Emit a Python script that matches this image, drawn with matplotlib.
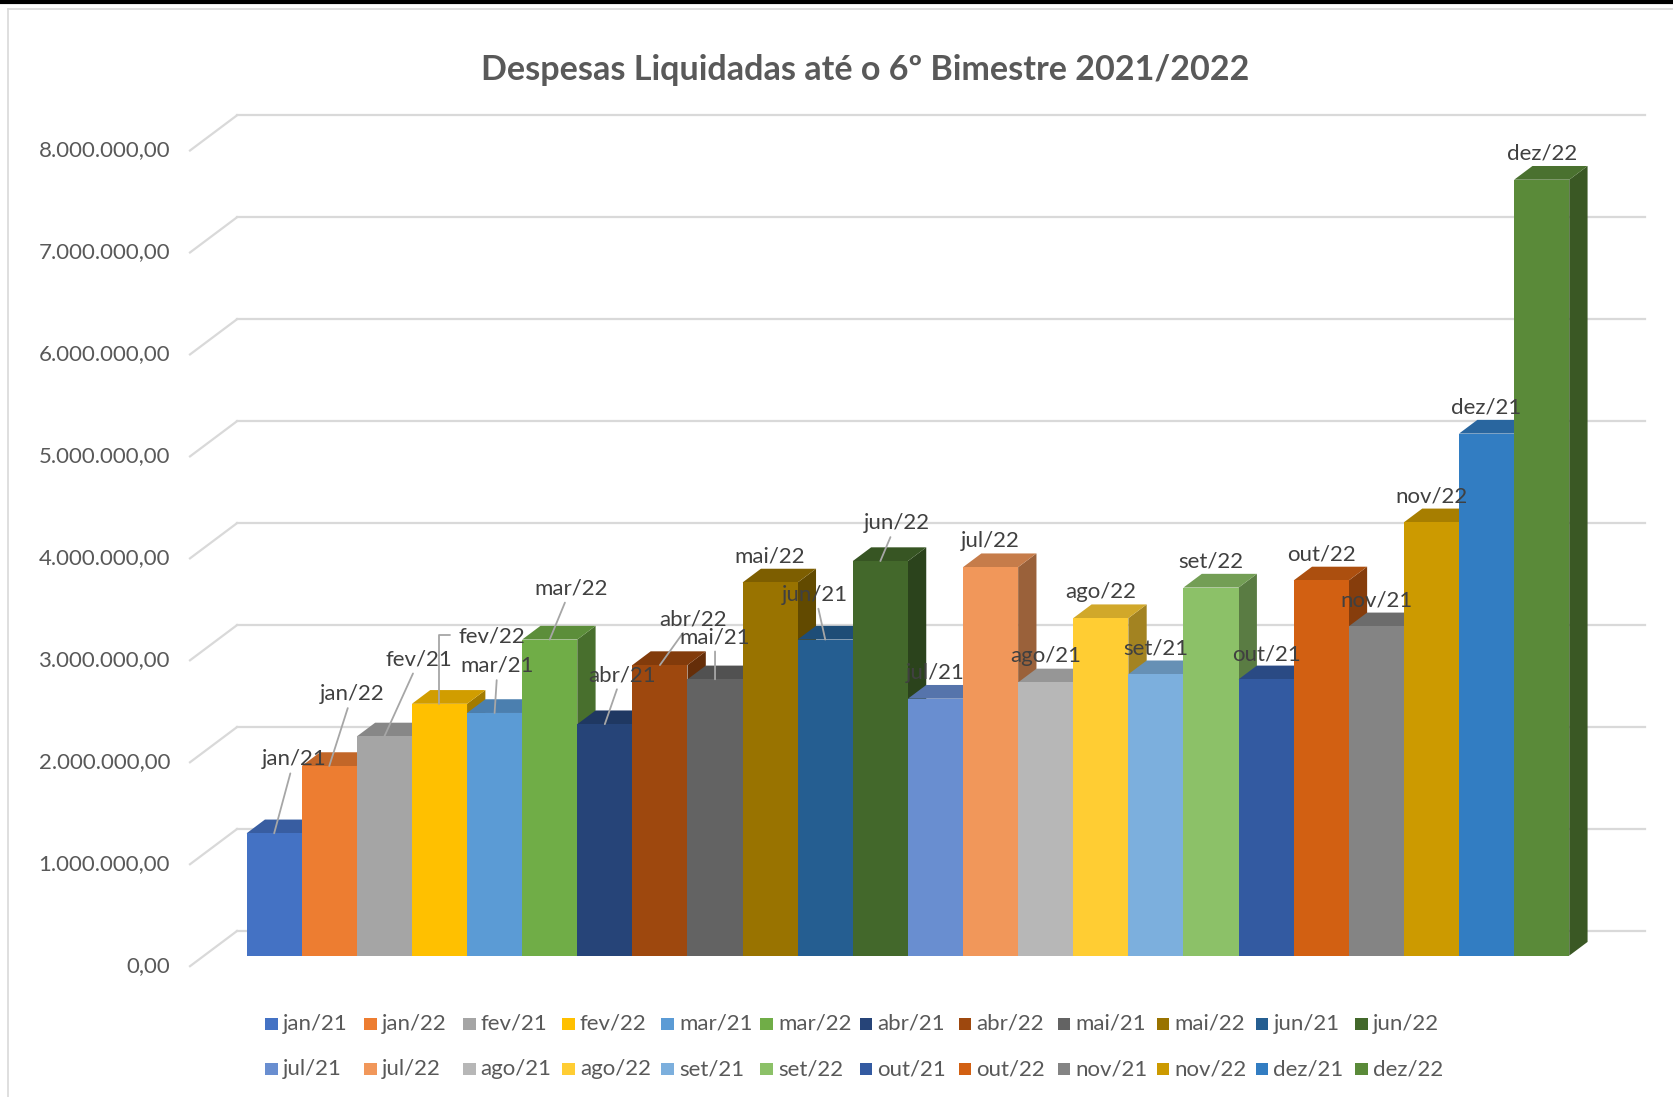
import matplotlib
matplotlib.use("Agg")
import matplotlib.pyplot as plt
from matplotlib.patches import Polygon, Rectangle
from matplotlib.lines import Line2D
from matplotlib.colors import to_rgb

# --- data ---
series_names = ["jan/21", "jan/22", "fev/21", "fev/22", "mar/21", "mar/22",
                "abr/21", "abr/22", "mai/21", "mai/22", "jun/21", "jun/22",
                "jul/21", "jul/22", "ago/21", "ago/22", "set/21", "set/22",
                "out/21", "out/22", "nov/21", "nov/22", "dez/21", "dez/22"]
values = [1200000, 1860000, 2150000, 2470000, 2380000, 3100000,
          2270000, 2850000, 2710000, 3660000, 3100000, 3870000,
          2520000, 3810000, 2680000, 3310000, 2760000, 3610000,
          2710000, 3680000, 3230000, 4250000, 5120000, 7610000]
y_ticks = [0, 1000000, 2000000, 3000000, 4000000, 5000000, 6000000, 7000000, 8000000]
title = "Despesas Liquidadas até o 6º Bimestre 2021/2022"

# Excel office palette, 24 series
colors = ["#4472C4", "#ED7D31", "#A5A5A5", "#FFC000", "#5B9BD5", "#70AD47",
          "#264478", "#9E480E", "#636363", "#997300", "#255E91", "#43682B",
          "#698ED0", "#F1975A", "#B7B7B7", "#FFCD33", "#7CAFDD", "#8CC168",
          "#335AA1", "#D26012", "#848484", "#CC9A00", "#327DC2", "#5A8A39"]

# label placement (px offsets from the front-top centre of each bar) and leader flags
label_dx = [20, 23, 35, 52, 3, 21, 17, 33, 0, 0, -10, 16,
            0, 0, 0, 0, 0, 0, 0, 0, 0, 0, 0, 0]
label_dy = [74, 72, 77, 67, 47, 51, 49, 46, 42, 26, 45, 38,
            26, 26, 26, 26, 26, 26, 25, 26, 26, 26, 26, 26]
leader = [1, 1, 1, 2, 1, 1, 1, 1, 1, 0, 1, 1,
          0, 0, 0, 0, 0, 0, 0, 0, 0, 0, 0, 0]

# --- geometry of the fake 3d box (in pixels of the 1674x1097 canvas) ---
W, H = 1674, 1097
px_bar = 55.11          # one bar width
px_mil = 101.96         # one million
x_origin = 232.5        # front plane, left edge of first bar
y_origin = 130.8        # front plane, value 0 (from bottom)
DX = 47.0 / px_bar      # wall depth in bar units
DY = 35.2 / px_mil * 1e6
front_d = 0.30          # depth where the bar fronts are
bar_d = 0.39            # bar thickness (depth)
wall_l, wall_r = -0.771, 24.771

FONT = "Lato"
TXT = "#595959"
GRID = "#D9D9D9"
FS = 16

fig = plt.figure(figsize=(W / 100, H / 100), dpi=100)
ax = fig.add_axes([0, 0, 1, 1])
ax.set_xlim(-x_origin / px_bar, (W - x_origin) / px_bar)
ax.set_ylim(-y_origin / px_mil * 1e6, (H - y_origin) / px_mil * 1e6)
ax.axis("off")

# back wall gridlines + diagonal ticks on the side
for t in y_ticks:
    ax.plot([wall_l + DX, wall_r + DX], [t + DY, t + DY], color=GRID, lw=1.6, zorder=1)
    ax.plot([wall_l, wall_l + DX], [t, t + DY], color=GRID, lw=1.6, zorder=1)
    lbl = f"{t:,.2f}".replace(",", "X").replace(".", ",").replace("X", ".")
    ax.text(wall_l - 20 / px_bar, t, lbl, ha="right", va="center",
            fontsize=FS, color=TXT, family=FONT)


def shade(c, f):
    r, g, b = to_rgb(c)
    return (r * f, g * f, b * f)


for i, (name, v, c) in enumerate(zip(series_names, values, colors)):
    z = 5 + i * 0.01
    x0 = i + front_d * DX
    x1 = x0 + 1
    yb = front_d * DY
    yt = v + yb
    ddx, ddy = bar_d * DX, bar_d * DY
    side = Polygon([(x1, yb), (x1, yt), (x1 + ddx, yt + ddy), (x1 + ddx, yb + ddy)],
                   closed=True, facecolor=shade(c, 0.64), edgecolor="none", zorder=z)
    top = Polygon([(x0, yt), (x1, yt), (x1 + ddx, yt + ddy), (x0 + ddx, yt + ddy)],
                  closed=True, facecolor=shade(c, 0.82), edgecolor="none", zorder=z)
    ax.add_patch(side)
    ax.add_patch(top)
    ax.bar(x0, v, width=1, bottom=yb, align="edge", color=c, edgecolor="none",
           zorder=z + 0.005)

# data labels
for i, (name, v) in enumerate(zip(series_names, values)):
    xc = i + front_d * DX + 0.5
    yt = v + front_d * DY
    kw = dict(xy=(xc, yt), xytext=(label_dx[i], label_dy[i]),
              textcoords="offset pixels", ha="center", va="center",
              fontsize=FS, color="#404040", family=FONT, zorder=20)
    if leader[i] == 1:
        kw["arrowprops"] = dict(arrowstyle="-", color="#A6A6A6", lw=1.3,
                                shrinkA=1, shrinkB=0)
    elif leader[i] == 2:
        kw["arrowprops"] = dict(arrowstyle="-", color="#A6A6A6", lw=1.3,
                                shrinkA=4, shrinkB=0, relpos=(0, 0.6),
                                connectionstyle="angle,angleA=0,angleB=90,rad=0")
    ax.annotate(name, **kw)

# title
fig.text(865 / W, 1 - 70 / H, title, ha="center", va="center", fontsize=24.6,
         fontweight="bold", color=TXT, family=FONT)

# legend, two rows of twelve
col0, col_step = 265.0, 99.1
rows_y = [H - 1024.0, H - 1069.0]
sq = 12.5
for i, (name, c) in enumerate(zip(series_names, colors)):
    r, k = divmod(i, 12)
    x = col0 + k * col_step
    y = rows_y[r]
    fig.patches.append(Rectangle(((x) / W, (y - sq / 2) / H), sq / W, sq / H,
                                 transform=fig.transFigure, facecolor=c,
                                 edgecolor="none"))
    fig.text((x + sq + 5) / W, y / H, name, ha="left", va="center",
             fontsize=FS, color=TXT, family=FONT)

# frame bits of the screenshot
fig.add_artist(Line2D([0, 1], [1 - 1.5 / H, 1 - 1.5 / H], color="black", lw=3,
                      transform=fig.transFigure))
fig.add_artist(Line2D([8 / W, 1], [1 - 9 / H, 1 - 9 / H], color=GRID, lw=1.2,
                      transform=fig.transFigure))
fig.add_artist(Line2D([8 / W, 8 / W], [0, 1 - 9 / H], color=GRID, lw=1.2,
                      transform=fig.transFigure))

fig.savefig("out.png", dpi=100, facecolor="white")
